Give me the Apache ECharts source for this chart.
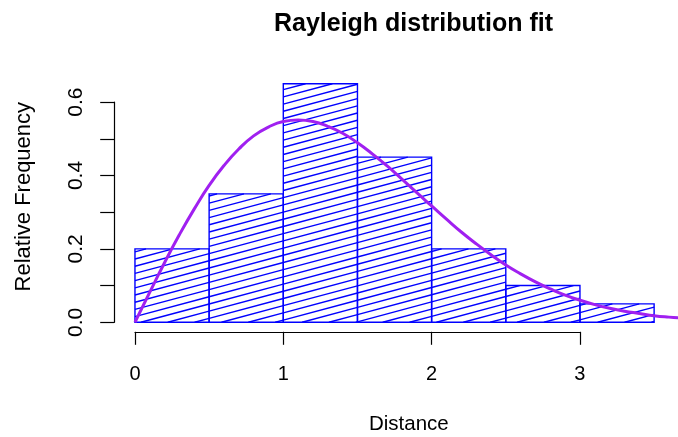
<!DOCTYPE html>
<html>
<head>
<meta charset="utf-8">
<script src="https://cdn.jsdelivr.net/npm/echarts@6/dist/echarts.min.js"></script>
<style>
html,body{margin:0;padding:0;background:#fff;}
#c{width:678px;height:437px;}
</style>
</head>
<body>
<div id="c"></div>
<script>
// Histogram bins (bin edges) and relative frequencies
var binEdges = [0, 0.5, 1.0, 1.5, 2.0, 2.5, 3.0, 3.5];
var relFreq = [0.20, 0.35, 0.65, 0.45, 0.20, 0.10, 0.05];
// Fitted Rayleigh curve
var curveX = [0, 0.1, 0.2, 0.3, 0.4, 0.5, 0.6, 0.7, 0.8, 0.9, 1.0, 1.1, 1.2, 1.3, 1.4, 1.5, 1.6, 1.7, 1.8, 1.9, 2.0, 2.1, 2.2, 2.3, 2.4, 2.5, 2.6, 2.7, 2.8, 2.9, 3.0, 3.1, 3.2, 3.3, 3.4, 3.5, 3.6, 3.7];
var curveY = [0, 0.082, 0.163, 0.239, 0.309, 0.373, 0.427, 0.472, 0.508, 0.532, 0.547, 0.551, 0.547, 0.534, 0.515, 0.489, 0.459, 0.426, 0.390, 0.353, 0.317, 0.281, 0.246, 0.214, 0.184, 0.156, 0.132, 0.110, 0.091, 0.074, 0.060, 0.048, 0.038, 0.030, 0.024, 0.018, 0.014, 0.011];
// Tick labels
var xTicks = [0, 1, 2, 3];
var yTickLabels = ['0.0', '0.2', '0.4', '0.6'];
var titleText = 'Rayleigh distribution fit';
var xLabel = 'Distance';
var yLabel = 'Relative Frequency';

var histData = relFreq.map(function (f, i) { return [binEdges[i], binEdges[i + 1], f]; });
var curveData = curveX.map(function (x, i) { return [x, curveY[i]]; });

var FONT = '"Liberation Sans", Arial, Helvetica, sans-serif';
var HATCH_T = Math.tan(15 * Math.PI / 180);
var HATCH_S = 7.2;

function renderBar(params, api) {
  var p0 = api.coord([api.value(0), 0]);
  var p1 = api.coord([api.value(1), api.value(2)]);
  var X0 = p0[0], X1 = p1[0], Y0 = p1[1], Y1 = p0[1];
  var children = [];
  var cMin = Y0 + X0 * HATCH_T, cMax = Y1 + X1 * HATCH_T;
  var k0 = Math.ceil(cMin / HATCH_S), k1 = Math.floor(cMax / HATCH_S);
  for (var k = k0; k <= k1; k++) {
    var c = k * HATCH_S;
    var xa = Math.max(X0, (c - Y1) / HATCH_T);
    var xb = Math.min(X1, (c - Y0) / HATCH_T);
    if (xb <= xa) continue;
    children.push({
      type: 'line',
      shape: { x1: xa, y1: c - xa * HATCH_T, x2: xb, y2: c - xb * HATCH_T },
      style: { stroke: '#0000ff', lineWidth: 1.4 }
    });
  }
  children.push({
    type: 'rect',
    shape: { x: X0, y: Y0, width: X1 - X0, height: Y1 - Y0 },
    style: { fill: null, stroke: '#0000ff', lineWidth: 1.4 }
  });
  return { type: 'group', children: children };
}

var chart = echarts.init(document.getElementById('c'));
chart.setOption({
  backgroundColor: '#ffffff',
  animation: false,
  title: {
    text: titleText,
    left: 408.5,
    textAlign: 'center',
    top: 7,
    textStyle: { fontFamily: FONT, fontSize: 25, fontWeight: 'bold', color: '#000' }
  },
  grid: [
    { left: 114.2, right: 0, top: 74.2, height: 257.6 },
    { left: 135, width: 444.9, top: 74.2, height: 257.6 },
    { left: 114.2, width: 100, top: 102.1, height: 220.2 }
  ],
  xAxis: [
    { gridIndex: 0, type: 'value', min: -0.14, max: 3.661, show: false },
    {
      gridIndex: 1, type: 'value', min: 0, max: 3, interval: 1, position: 'bottom',
      axisLine: { show: true, lineStyle: { color: '#000', width: 1.2 } },
      axisTick: { show: true, length: 13, lineStyle: { color: '#000', width: 1.2 } },
      axisLabel: {
        show: true, margin: 33, color: '#000', fontSize: 20, fontFamily: FONT,
        formatter: function (v) { return xTicks.indexOf(Math.round(v)) >= 0 ? String(Math.round(v)) : ''; }
      },
      splitLine: { show: false }
    },
    { gridIndex: 2, type: 'value', show: false }
  ],
  yAxis: [
    { gridIndex: 0, type: 'value', min: -0.026, max: 0.676, show: false },
    { gridIndex: 1, type: 'value', show: false },
    {
      gridIndex: 2, type: 'value', min: 0, max: 0.6, interval: 0.1, position: 'left',
      axisLine: { show: true, lineStyle: { color: '#000', width: 1.2 } },
      axisTick: { show: true, length: 14, lineStyle: { color: '#000', width: 1.2 } },
      axisLabel: {
        show: true, rotate: 90, margin: 27, color: '#000', fontSize: 21, fontFamily: FONT,
        formatter: function (v) {
          var i = Math.round(v * 10);
          return i % 2 === 0 ? yTickLabels[i / 2] : '';
        }
      },
      splitLine: { show: false }
    }
  ],
  graphic: [
    {
      type: 'text', x: 408.8, y: 424.5,
      style: { text: xLabel, fill: '#000', font: '20.5px ' + FONT, textAlign: 'center', textVerticalAlign: 'middle' }
    },
    {
      type: 'text', x: 24, y: 196.7, rotation: Math.PI / 2,
      style: { text: yLabel, fill: '#000', font: '22px ' + FONT, textAlign: 'center', textVerticalAlign: 'middle' }
    }
  ],
  series: [
    {
      type: 'custom', xAxisIndex: 0, yAxisIndex: 0,
      renderItem: renderBar, data: histData, encode: { x: [0, 1], y: 2 }, z: 2
    },
    {
      type: 'line', xAxisIndex: 0, yAxisIndex: 0, data: curveData, smooth: true,
      showSymbol: false, lineStyle: { color: '#A020F0', width: 3 }, z: 3
    }
  ]
});
</script>
</body>
</html>
